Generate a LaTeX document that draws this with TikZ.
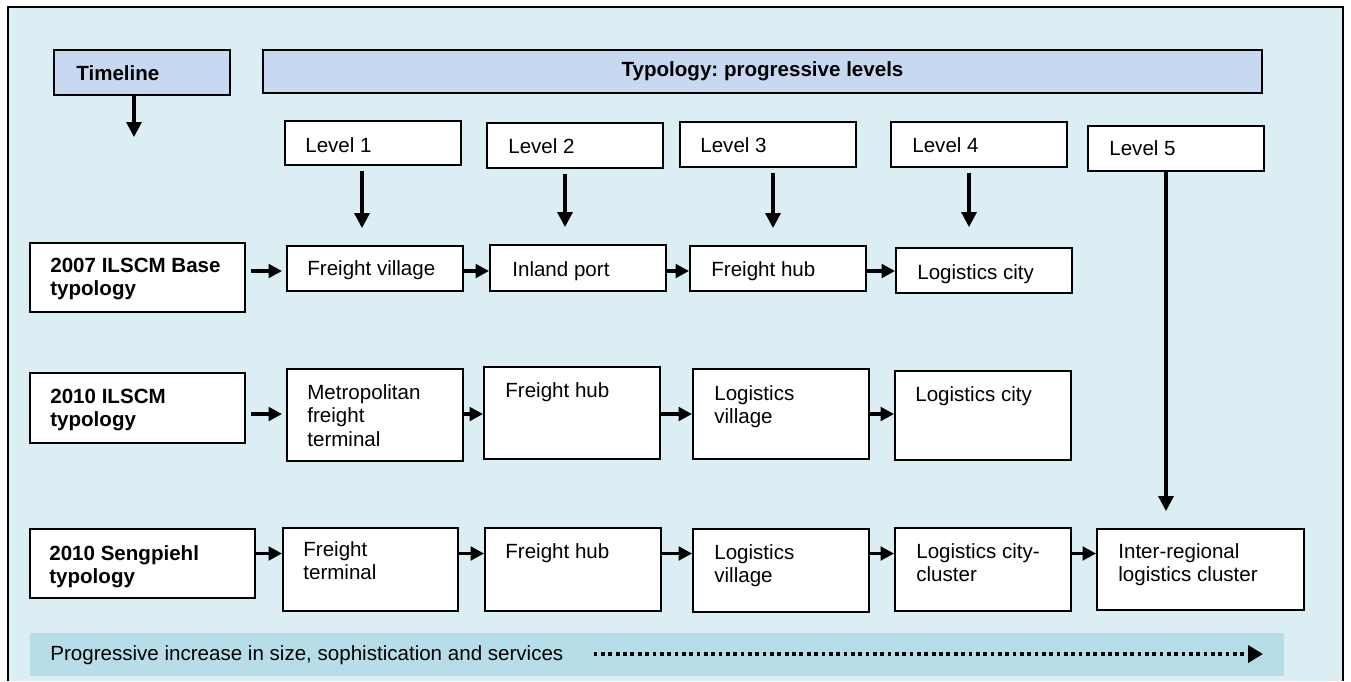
\documentclass[tikz,border=0pt]{standalone}
\usepackage{fontspec}
\setmainfont{Liberation Sans}
\usetikzlibrary{arrows.meta}

\definecolor{panelblue}{RGB}{218,238,243}
\definecolor{headblue}{RGB}{198,217,241}
\definecolor{bandblue}{RGB}{183,221,232}

\newcommand{\diagfont}{\fontsize{11.7}{13.4}\selectfont}
\frenchspacing

\tikzset{
  box/.style={draw, line width=1.1pt, fill=white, inner sep=0pt},
  headbox/.style={box, fill=headblue, font=\diagfont\bfseries},
  % text nodes sit on the baseline of their last line
  txt/.style={anchor=base west, inner sep=0pt, align=left, font=\diagfont},
  btxt/.style={txt, font=\diagfont\bfseries},
  levarr/.style={-{Triangle[length=0.3cm,width=0.3cm]}, line width=1.8pt},
  rowarr/.style={-{Triangle[length=0.27cm,width=0.27cm]}, line width=2pt},
  dotarr/.style={-{Triangle[length=0.3cm,width=0.34cm]}, line width=2.1pt,
    dash pattern=on 0.075cm off 0.072cm}
}

\begin{document}
\begin{tikzpicture}[x=0.02cm, y=-0.02cm]
    \useasboundingbox (0,0) rectangle (1351,681);
    \fill[panelblue] (8,7) rectangle (1343,681);
    \draw[line width=1.1pt] (8,681) -- (8,7) -- (1343,7) -- (1343,681);

    % headers
    \node[headbox, minimum width=3.52cm, minimum height=0.9cm] (timeline) at (142,72.5) {};
    \node[btxt] (timeline-t) at (76,80) {Timeline};
    \node[headbox, minimum width=19.98cm, minimum height=0.86cm] (typology) at (762.5,71.5) {Typology: progressive levels};
    \coordinate (tlend) at (134,137);
    \draw[levarr] (tlend |- timeline.south) -- (tlend);

    % levels
    \node[box, minimum width=3.52cm, minimum height=0.88cm] (l1) at (373,143) {};
    \node[box, minimum width=3.52cm, minimum height=0.9cm] (l2) at (575,145.5) {};
    \node[box, minimum width=3.52cm, minimum height=0.9cm] (l3) at (768,144.5) {};
    \node[box, minimum width=3.52cm, minimum height=0.9cm] (l4) at (979,144.5) {};
    \node[box, minimum width=3.52cm, minimum height=0.9cm] (l5) at (1176,148.5) {};
    \node[txt] (l1-t) at (305,152) {Level 1};
    \node[txt] (l2-t) at (508,153) {Level 2};
    \node[txt] (l3-t) at (700,152) {Level 3};
    \node[txt] (l4-t) at (912,152) {Level 4};
    \node[txt] (l5-t) at (1109,155) {Level 5};

    % 2007 ILSCM
    \node[box, minimum width=4.3cm, minimum height=1.38cm] (r1a) at (137.5,277.5) {};
    \node[box, minimum width=3.52cm, minimum height=0.9cm] (r1b) at (375,268.5) {};
    \node[box, minimum width=3.52cm, minimum height=0.92cm] (r1c) at (578,268) {};
    \node[box, minimum width=3.52cm, minimum height=0.9cm] (r1d) at (778,268.5) {};
    \node[box, minimum width=3.52cm, minimum height=0.9cm] (r1e) at (984,270.5) {};
    \node[btxt] (r1a-t) at (50,295.6) {2007 ILSCM Base\\typology};
    \node[txt] (r1b-t) at (307,275) {Freight village};
    \node[txt] (r1c-t) at (512,276) {Inland port};
    \node[txt] (r1d-t) at (711,276) {Freight hub};
    \node[txt] (r1e-t) at (917,279) {Logistics city};

    % 2010 ILSCM
    \node[box, minimum width=4.3cm, minimum height=1.4cm] (r2a) at (137.5,408) {};
    \node[box, minimum width=3.52cm, minimum height=1.84cm] (r2b) at (375,415) {};
    \node[box, minimum width=3.52cm, minimum height=1.84cm] (r2c) at (572,413) {};
    \node[box, minimum width=3.52cm, minimum height=1.8cm] (r2d) at (781,414) {};
    \node[box, minimum width=3.52cm, minimum height=1.78cm] (r2e) at (983,415.5) {};
    \node[btxt] (r2a-t) at (50,426.6) {2010 ILSCM\\typology};
    \node[txt] (r2b-t) at (307,446.2) {Metropolitan\\freight\\terminal};
    \node[txt] (r2c-t) at (505,397) {Freight hub};
    \node[txt] (r2d-t) at (714,423.6) {Logistics\\village};
    \node[txt] (r2e-t) at (915,401) {Logistics city};

    % 2010 Sengpiehl
    \node[box, minimum width=4.5cm, minimum height=1.38cm] (r3a) at (142.5,563.5) {};
    \node[box, minimum width=3.5cm, minimum height=1.66cm] (r3b) at (370.5,569.5) {};
    \node[box, minimum width=3.52cm, minimum height=1.66cm] (r3c) at (573,569.5) {};
    \node[box, minimum width=3.52cm, minimum height=1.66cm] (r3d) at (781,570.5) {};
    \node[box, minimum width=3.52cm, minimum height=1.66cm] (r3e) at (983,569.5) {};
    \node[box, minimum width=4.14cm, minimum height=1.62cm] (r3f) at (1200.5,569.5) {};
    \node[btxt] (r3a-t) at (49,583.6) {2010 Sengpiehl\\typology};
    \node[txt] (r3b-t) at (303,579.6) {Freight\\terminal};
    \node[txt] (r3c-t) at (505,558) {Freight hub};
    \node[txt] (r3d-t) at (714,582.6) {Logistics\\village};
    \node[txt] (r3e-t) at (916,581.6) {Logistics city-\\cluster};
    \node[txt] (r3f-t) at (1118,581.6) {Inter-regional\\logistics cluster};

    % level arrows
    \draw[levarr, shorten <=0.1cm, shorten >=0.34cm] ([xshift=-0.22cm]l1.south) -- ([xshift=-0.22cm]l1.south |- r1b.north);
    \draw[levarr, shorten <=0.1cm, shorten >=0.34cm] ([xshift=-0.2cm]l2.south) -- ([xshift=-0.2cm]l2.south |- r1c.north);
    \draw[levarr, shorten <=0.1cm, shorten >=0.34cm] ([xshift=0.1cm]l3.south) -- ([xshift=0.1cm]l3.south |- r1d.north);
    \draw[levarr, shorten <=0.1cm, shorten >=0.4cm] ([xshift=-0.2cm]l4.south) -- ([xshift=-0.2cm]l4.south |- r1e.north);
    \draw[levarr, shorten >=0.34cm] ([xshift=-0.2cm]l5.south) -- ([xshift=-0.2cm]l5.south |- r3f.north);

    % row arrows
    \coordinate (y1) at (0,271);
    \coordinate (y2) at (0,414);
    \coordinate (y3) at (0,553.5);
    \draw[rowarr, shorten <=0.1cm, shorten >=0.08cm] (r1a.east |- y1) -- (r1b.west |- y1);
    \draw[rowarr] (r1b.east |- y1) -- (r1c.west |- y1);
    \draw[rowarr] (r1c.east |- y1) -- (r1d.west |- y1);
    \draw[rowarr] (r1d.east |- y1) -- (r1e.west |- y1);
    \draw[rowarr, shorten <=0.1cm, shorten >=0.08cm] (r2a.east |- y2) -- (r2b.west |- y2);
    \draw[rowarr] (r2b.east |- y2) -- (r2c.west |- y2);
    \draw[rowarr] (r2c.east |- y2) -- (r2d.west |- y2);
    \draw[rowarr] (r2d.east |- y2) -- (r2e.west |- y2);
    \draw[rowarr] (r3a.east |- y3) -- (r3b.west |- y3);
    \draw[rowarr] (r3b.east |- y3) -- (r3c.west |- y3);
    \draw[rowarr] (r3c.east |- y3) -- (r3d.west |- y3);
    \draw[rowarr] (r3d.east |- y3) -- (r3e.west |- y3);
    \draw[rowarr] (r3e.east |- y3) -- (r3f.west |- y3);

    % progression band
    \fill[bandblue] (30,633) rectangle (1284,676);
    \node[txt] (band-t) at (50,660) {Progressive increase in size, sophistication and services};
    \coordinate (bandend) at (1263,654);
    \draw[dotarr, shorten <=0.6cm] (band-t.east |- bandend) -- (bandend);
\end{tikzpicture}
\end{document}
